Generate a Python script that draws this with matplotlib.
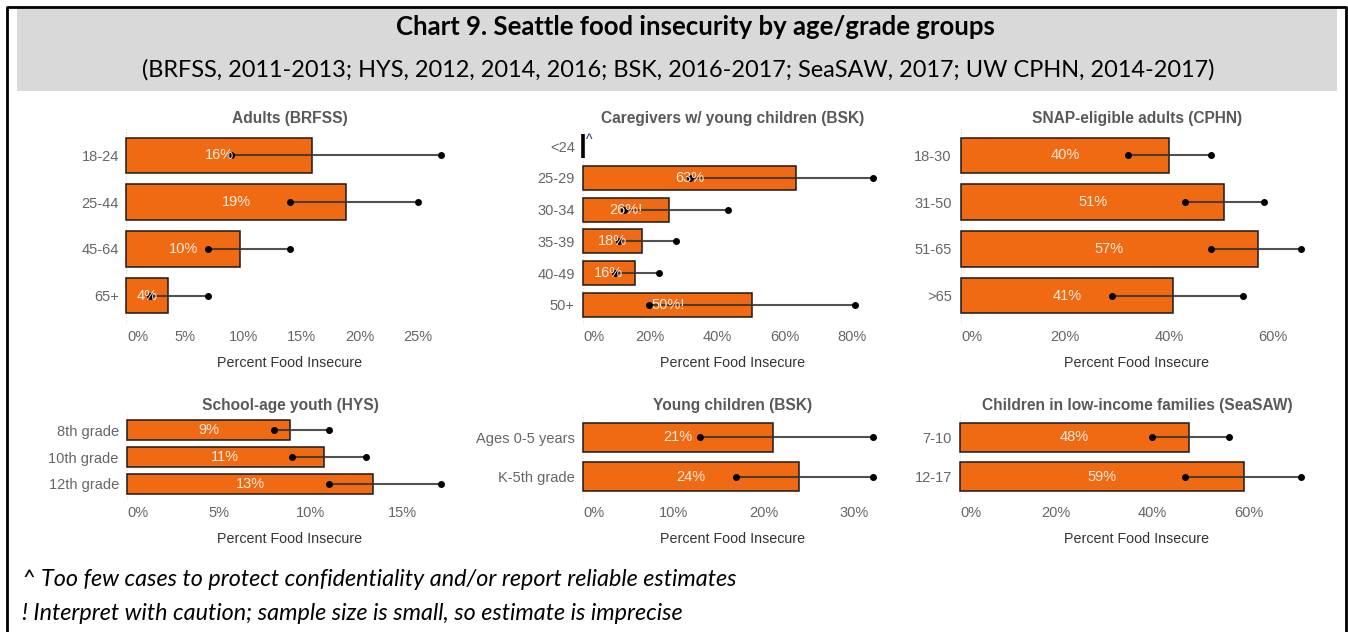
import numpy as np
import matplotlib
matplotlib.use("Agg")
from matplotlib import pyplot as plt
from matplotlib.lines import Line2D
from matplotlib.patches import Rectangle
from matplotlib.transforms import ScaledTranslation

# --- data ---
adult_groups = ['18-24', '25-44', '45-64', '65+']
adult_pct = [15.9, 18.8, 9.7, 3.6]
adult_lo = [9.0, 14.0, 7.0, 2.0]
adult_hi = [27.0, 25.0, 14.0, 7.0]
adult_lbl = ['16%', '19%', '10%', '4%']

care_groups = ['<24', '25-29', '30-34', '35-39', '40-49', '50+']
care_pct = [0, 63.3, 25.5, 17.6, 15.3, 50.3]
care_lo = [np.nan, 31.7, 12.3, 10.7, 9.5, 19.5]
care_hi = [np.nan, 86.0, 43.0, 27.7, 22.6, 80.7]
care_lbl = ['^', '63%', '26%!', '18%', '16%', '50%!']

snap_groups = ['18-30', '31-50', '51-65', '>65']
snap_pct = [40.1, 50.7, 57.1, 40.8]
snap_lo = [32.1, 43.1, 48.1, 29.0]
snap_hi = [48.1, 58.3, 65.4, 54.2]
snap_lbl = ['40%', '51%', '57%', '41%']

hys_groups = ['8th grade', '10th grade', '12th grade']
hys_pct = [8.9, 10.7, 13.4]
hys_lo = [8.0, 9.0, 11.0]
hys_hi = [11.0, 13.0, 17.1]
hys_lbl = ['9%', '11%', '13%']

young_groups = ['Ages 0-5 years', 'K-5th grade']
young_pct = [21.0, 23.9]
young_lo = [13.0, 16.9]
young_hi = [32.0, 32.0]
young_lbl = ['21%', '24%']

lowinc_groups = ['7-10', '12-17']
lowinc_pct = [47.7, 59.0]
lowinc_lo = [40.0, 46.9]
lowinc_hi = [56.0, 70.9]
lowinc_lbl = ['48%', '59%']

W, H = 1348, 632
fig = plt.figure(figsize=(W / 100, H / 100), dpi=100)
fig.patch.set_facecolor('white')


def px_axes(x0, y0, x1, y1):
    return fig.add_axes([x0 / W, 1 - y1 / H, (x1 - x0) / W, (y1 - y0) / H])


ORANGE = '#F06A14'
TXT = '#666666'
FONT = 'Liberation Sans'


def panel(ax, title, groups, pct, lo, hi, lbl, step, xmin):
    y = np.arange(len(groups))
    ax.axvline(0, color='#d8d8d8', lw=0.8, ls=':', zorder=0)
    ax.barh(y, pct, height=0.75, color=ORANGE, edgecolor='#1a1a1a', linewidth=1.1, zorder=2)
    lo = np.asarray(lo, float)
    hi = np.asarray(hi, float)
    ok = ~np.isnan(lo)
    ax.hlines(y[ok], lo[ok], hi[ok], color='#333333', lw=1.5, alpha=0.85, zorder=3)
    ax.scatter(np.r_[lo[ok], hi[ok]], np.r_[y[ok], y[ok]], s=16, color='black', zorder=4)
    for yi, v, t in zip(y, pct, lbl):
        if v > 0:
            ax.text(v / 2, yi, t, ha='center', va='center', color='#FDEBE0',
                    fontsize=10.5, family=FONT, zorder=5)
        else:
            # suppressed estimate: zero-width bar drawn as a heavy line
            ax.vlines(v, yi - 0.375, yi + 0.375, color='black', lw=2.6, zorder=3)
            ax.text(v + 1.0, yi - 0.2, t, ha='left', va='center', color='#1f3864',
                    fontsize=10, family=FONT, zorder=5)
    top = np.nanmax(hi)
    ax.set_xlim(xmin, top * 1.05)
    ax.set_ylim(len(groups) - 0.4, -0.6)
    ax.set_yticks(y)
    ax.set_yticklabels(groups)
    ticks = np.arange(0, top + 0.01, step)
    ax.set_xticks(ticks)
    ax.set_xticklabels(['%d%%' % t for t in ticks])
    for s in ax.spines.values():
        s.set_visible(False)
    ax.tick_params(length=0, labelsize=10.5, labelcolor=TXT)
    ax.tick_params(axis='x', pad=4)
    ax.tick_params(axis='y', pad=3)
    for t in ax.get_xticklabels() + ax.get_yticklabels():
        t.set_family(FONT)
    first = ax.get_xticklabels()[0]
    first.set_transform(first.get_transform() + ScaledTranslation(0.11, 0, fig.dpi_scale_trans))
    ax.set_title(title, fontsize=11.2, fontweight='bold', color='#595959',
                 family=FONT, pad=3)
    ax.set_xlabel('Percent Food Insecure', fontsize=10.3, color='#333333',
                  family=FONT, labelpad=9)


cols = [(123, 457), (579, 887), (956, 1318)]
top_row = (127, 324)
bot_row = (414, 500)

ax1 = px_axes(cols[0][0], top_row[0], cols[0][1], top_row[1])
panel(ax1, 'Adults (BRFSS)', adult_groups, adult_pct, adult_lo, adult_hi, adult_lbl, 5, -0.3)
ax2 = px_axes(cols[1][0], top_row[0], cols[1][1], top_row[1])
panel(ax2, 'Caregivers w/ young children (BSK)', care_groups, care_pct, care_lo, care_hi, care_lbl, 20, -1.2)
ax3 = px_axes(cols[2][0], top_row[0], cols[2][1], top_row[1])
panel(ax3, 'SNAP-eligible adults (CPHN)', snap_groups, snap_pct, snap_lo, snap_hi, snap_lbl, 20, -0.9)
ax4 = px_axes(cols[0][0], bot_row[0], cols[0][1], bot_row[1])
panel(ax4, 'School-age youth (HYS)', hys_groups, hys_pct, hys_lo, hys_hi, hys_lbl, 5, -0.2)
ax5 = px_axes(cols[1][0], bot_row[0], cols[1][1], bot_row[1])
panel(ax5, 'Young children (BSK)', young_groups, young_pct, young_lo, young_hi, young_lbl, 10, -0.4)
ax6 = px_axes(cols[2][0], bot_row[0], cols[2][1], bot_row[1])
panel(ax6, 'Children in low-income families (SeaSAW)', lowinc_groups, lowinc_pct, lowinc_lo, lowinc_hi, lowinc_lbl, 20, -0.8)

# header band and frame
fig.add_artist(Rectangle((17 / W, 1 - 91 / H), (1337 - 17) / W, (91 - 8) / H,
                         transform=fig.transFigure, facecolor='#D9D9D9', edgecolor='none', zorder=0))
fig.add_artist(Line2D([7 / W, 7 / W, 1346 / W, 1346 / W], [0, 1 - 7 / H, 1 - 7 / H, 0],
                      transform=fig.transFigure, color='black', lw=2))

fig.text(695 / W, 1 - 27 / H, 'Chart 9. Seattle food insecurity by age/grade groups',
         ha='center', va='center', fontsize=18.5, fontweight='bold', family='Lato')
fig.text(678 / W, 1 - 70 / H, '(BRFSS, 2011-2013; HYS, 2012, 2014, 2016; BSK, 2016-2017; SeaSAW, 2017; UW CPHN, 2014-2017)',
         ha='center', va='center', fontsize=16.9, family='Lato')
fig.text(22 / W, 1 - 580 / H, '^ Too few cases to protect confidentiality and/or report reliable estimates',
         ha='left', va='center', fontsize=16.8, style='italic', family='Lato')
fig.text(22 / W, 1 - 614 / H, '! Interpret with caution; sample size is small, so estimate is imprecise',
         ha='left', va='center', fontsize=16.8, style='italic', family='Lato')

fig.savefig('out.png', dpi=100)
